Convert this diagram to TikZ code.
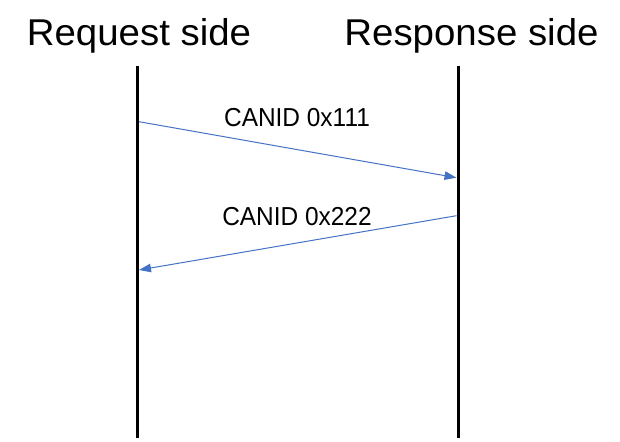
\documentclass[tikz,border=0pt]{standalone}
\usepackage{fontspec}
\setmainfont{Liberation Sans}
\usetikzlibrary{arrows.meta}
\definecolor{msgblue}{HTML}{4472C4}
\tikzset{
  title/.style={anchor=base, inner sep=0pt, font=\fontsize{37.3}{40}\selectfont},
  msglabel/.style={anchor=base, inner sep=0pt, font=\fontsize{26}{28}\selectfont},
  lifeline/.style={line width=3pt, black},
  msg/.style={draw=msgblue, line width=1pt, -{Triangle[length=12pt,width=8.5pt]}}
}
\begin{document}
\begin{tikzpicture}[x=1pt,y=-1pt]
\useasboundingbox (0,0) rectangle (620,441);
\node[title] (req) at (139,46) {\scalebox{1.03}[1]{Request side}};
\node[title] (resp) at (471.5,46) {\scalebox{1.03}[1]{Response side}};
\coordinate (ltop) at (137.3,66);
\coordinate (lbot) at (137.3,438);
\coordinate (rtop) at (458,66);
\coordinate (rbot) at (458,438);
\draw[lifeline] (ltop) -- (lbot);
\draw[lifeline] (rtop) -- (rbot);
\coordinate (m1s) at (139,121.7);
\coordinate (m1e) at (456.5,177.7);
\coordinate (m2s) at (456.5,215.7);
\coordinate (m2e) at (139,270);
\draw[msg] (m1s) -- (m1e);
\draw[msg] (m2s) -- (m2e);
\node[msglabel] (l1) at (297,126) {\scalebox{0.94}[1]{CANID 0x111}};
\node[msglabel] (l2) at (297,225) {\scalebox{0.94}[1]{CANID 0x222}};
\end{tikzpicture}
\end{document}
